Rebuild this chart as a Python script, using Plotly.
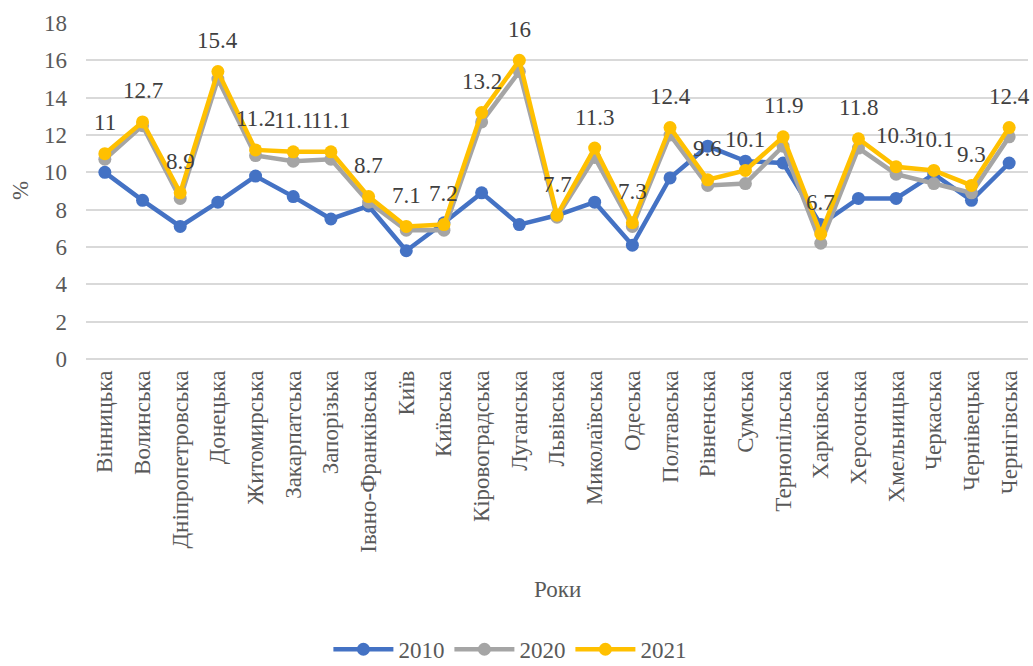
import plotly.graph_objects as go

# Regions (categories on the x axis)
regions = ['Вінницька', 'Волинська', 'Дніпропетровська', 'Донецька', 'Житомирська',
           'Закарпатська', 'Запорізька', 'Івано-Франківська', 'Київ', 'Київська',
           'Кіровоградська', 'Луганська', 'Львівська', 'Миколаївська', 'Одеська',
           'Полтавська', 'Рівненська', 'Сумська', 'Тернопільська', 'Харківська',
           'Херсонська', 'Хмельницька', 'Черкаська', 'Чернівецька', 'Чернігівська']

# Values, %
y2010 = [10.0, 8.5, 7.1, 8.4, 9.8, 8.7, 7.5, 8.2, 5.8, 7.3, 8.9, 7.2, 7.7, 8.4, 6.1,
         9.7, 11.4, 10.6, 10.5, 7.2, 8.6, 8.6, 9.9, 8.5, 10.5]
y2020 = [10.7, 12.5, 8.6, 15.0, 10.9, 10.6, 10.7, 8.4, 6.9, 6.9, 12.7, 15.4, 7.6, 10.8, 7.1,
         12.0, 9.3, 9.4, 11.4, 6.2, 11.3, 9.9, 9.4, 8.9, 11.9]
y2021 = [11, 12.7, 8.9, 15.4, 11.2, 11.1, 11.1, 8.7, 7.1, 7.2, 13.2, 16, 7.7, 11.3, 7.3,
         12.4, 9.6, 10.1, 11.9, 6.7, 11.8, 10.3, 10.1, 9.3, 12.4]

serif = 'Liberation Serif'
fs = 23

series = [('2010', y2010, '#4472C4'), ('2020', y2020, '#A5A5A5'), ('2021', y2021, '#FFC000')]

fig = go.Figure()
for name, vals, color in series:
    fig.add_trace(go.Scatter(
        x=regions, y=vals, name=name, mode='lines+markers',
        line=dict(color=color, width=4.5),
        marker=dict(color=color, size=13),
    ))

# data labels for 2021 above the points
annotations = []
for reg, v in zip(regions, y2021):
    annotations.append(dict(x=reg, y=v, text=f'{v:g}', showarrow=False, yshift=31,
                            font=dict(family=serif, size=fs, color='#404040')))

annotations.append(dict(x=0.5, y=-0.685, xref='paper', yref='paper', text='Роки',
                        xanchor='center', yanchor='middle', showarrow=False,
                        font=dict(family=serif, size=fs, color='#595959')))
annotations.append(dict(x=-0.07, y=0.5, xref='paper', yref='paper', text='%', textangle=-90,
                        xanchor='center', yanchor='middle', showarrow=False,
                        font=dict(family=serif, size=fs, color='#595959')))

fig.update_layout(
    width=1033, height=666,
    margin=dict(l=86, r=5, t=23, b=307, autoexpand=False),
    plot_bgcolor='white', paper_bgcolor='white',
    font=dict(family=serif, size=fs, color='#595959'),
    showlegend=True,
    legend=dict(orientation='h', x=0.45, xanchor='center', y=-0.864, yanchor='middle',
                font=dict(family=serif, size=fs, color='#595959'), itemwidth=60),
    annotations=annotations,
)
fig.update_xaxes(tickangle=-90, showgrid=False, showline=False, ticks='',
                 range=[-0.5, len(regions) - 0.5], automargin=False, ticklabelstandoff=6,
                 tickfont=dict(family=serif, size=fs, color='#595959'))
fig.update_yaxes(range=[0, 18], dtick=2, showgrid=True, gridcolor='#D9D9D9', gridwidth=1.5,
                 zeroline=True, zerolinecolor='#D9D9D9', zerolinewidth=1.5,
                 ticklabelstandoff=18, automargin=False,
                 tickfont=dict(family=serif, size=fs, color='#595959'))

# drop the default body margin so the figure sits at the page corner
fig.write_html("out.html", config={'displayModeBar': False},
               post_script="document.body.style.margin='0';")
